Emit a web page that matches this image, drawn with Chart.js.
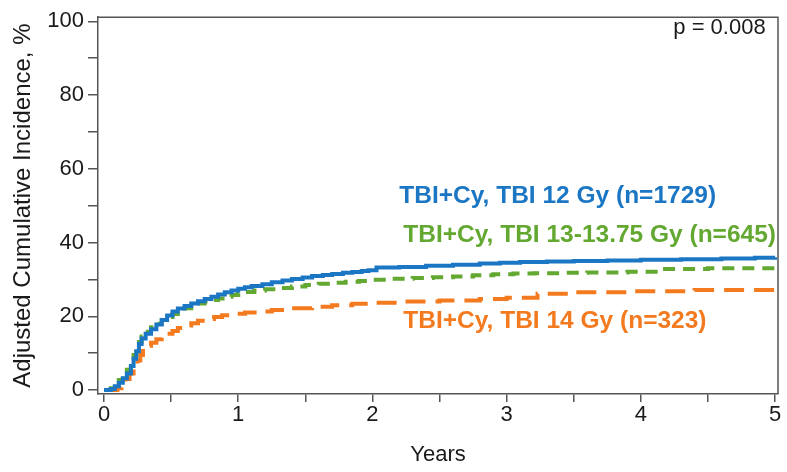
<!DOCTYPE html>
<html>
<head>
<meta charset="utf-8">
<script src="https://cdn.jsdelivr.net/npm/chart.js@4/dist/chart.umd.min.js"></script>
<style>
  html, body { margin: 0; padding: 0; background: #fff; }
  #wrap { width: 787px; height: 472px; position: relative; }
</style>
</head>
<body>
<div id="wrap"><canvas id="chart"></canvas></div>
<script>
// years since transplant, adjusted cumulative incidence (%)
const blueYears = [0, 0.05, 0.08, 0.11, 0.14, 0.17, 0.2, 0.22, 0.24, 0.26, 0.28, 0.31, 0.35, 0.39, 0.43, 0.47, 0.51, 0.55, 0.6, 0.65, 0.7, 0.75, 0.8, 0.85, 0.9, 0.95, 1.0, 1.05, 1.1, 1.18, 1.25, 1.33, 1.4, 1.48, 1.55, 1.63, 1.7, 1.78, 1.85, 1.92, 1.97, 2.03, 2.2, 2.4, 2.6, 2.8, 2.95, 3.1, 3.3, 3.5, 3.75, 4.0, 4.3, 4.6, 4.85, 5.0];
const blueValues = [0, 0.3, 1, 2, 3.2, 4.5, 6.5, 8.5, 10.5, 12.5, 14, 15.3, 16.5, 17.8, 19, 20.2, 21.3, 22.1, 22.8, 23.5, 24.1, 24.7, 25.3, 25.9, 26.5, 27, 27.5, 27.9, 28.2, 28.7, 29.2, 29.7, 30.1, 30.5, 30.9, 31.2, 31.5, 31.8, 32, 32.3, 32.5, 33.2, 33.4, 33.7, 34, 34.3, 34.5, 34.7, 34.85, 35, 35.15, 35.3, 35.5, 35.7, 35.9, 36];

const greenYears = [0, 0.05, 0.08, 0.11, 0.14, 0.17, 0.2, 0.22, 0.24, 0.26, 0.28, 0.31, 0.35, 0.39, 0.43, 0.47, 0.51, 0.55, 0.6, 0.65, 0.7, 0.75, 0.8, 0.85, 0.9, 0.95, 1.0, 1.05, 1.12, 1.2, 1.3, 1.4, 1.5, 1.6, 1.7, 1.8, 1.9, 2.0, 2.15, 2.3, 2.45, 2.6, 2.75, 2.9, 3.05, 3.2, 3.4, 3.6, 3.9, 4.14, 4.5, 5.0];
const greenValues = [0, 0.5, 1.5, 2.7, 4, 5.5, 7.5, 9.5, 11.5, 13, 14.5, 15.8, 17, 18, 19, 19.8, 20.6, 21.4, 22.2, 22.9, 23.5, 24, 24.4, 24.8, 25.3, 25.8, 26.2, 26.6, 27, 27.3, 27.7, 28.1, 28.5, 28.8, 29.1, 29.4, 29.6, 29.9, 30.2, 30.4, 30.6, 30.8, 31.1, 31.4, 31.6, 31.7, 31.8, 31.9, 32.1, 32.8, 33, 33];

const orangeYears = [0, 0.1, 0.13, 0.16, 0.19, 0.22, 0.25, 0.27, 0.29, 0.32, 0.35, 0.39, 0.43, 0.47, 0.51, 0.55, 0.6, 0.65, 0.7, 0.76, 0.82, 0.88, 0.95, 1.05, 1.15, 1.25, 1.4, 1.55, 1.7, 1.85, 2.0, 2.2, 2.5, 2.8, 3.0, 3.23, 3.5, 3.9, 4.4, 5.0];
const orangeValues = [0, 0.5, 1.5, 3, 4.5, 6.5, 8, 9.5, 11.2, 12, 12.8, 13.8, 14.6, 15.3, 16, 16.8, 17.5, 18.1, 18.8, 19.3, 19.8, 20.3, 20.7, 21, 21.3, 21.7, 22.2, 22.6, 23, 23.4, 23.7, 24, 24.3, 24.7, 25, 26.1, 26.5, 26.8, 27.1, 27.3];

const seriesLabels = ["TBI+Cy, TBI 12 Gy (n=1729)", "TBI+Cy, TBI 13-13.75 Gy (n=645)", "TBI+Cy, TBI 14 Gy (n=323)"];
const xTicks = [0, 0.5, 1, 1.5, 2, 2.5, 3, 3.5, 4, 4.5, 5];
const yTicks = [0, 10, 20, 30, 40, 50, 60, 70, 80, 90, 100];
const pValueText = "p = 0.008";

const BLUE = "#1b76c4";
const GREEN = "#63a830";
const ORANGE = "#f37a1f";
const AXIS = "#555";
const TEXT = "#1a1a1a";
const FONT = "'Liberation Sans', Arial, sans-serif";

const toPoints = (xs, ys) => xs.map((x, i) => ({ x, y: ys[i] }));

// labels placed in data coordinates, drawn after the curves
const annotations = [
  { text: seriesLabels[0], x: 2.2, y: 52.5, color: BLUE, bold: true, size: 24.5, align: "left" },
  { text: seriesLabels[1], x: 2.23, y: 42.0, color: GREEN, bold: true, size: 24.5, align: "left" },
  { text: seriesLabels[2], x: 2.23, y: 18.6, color: ORANGE, bold: true, size: 24.5, align: "left" },
  { text: pValueText, x: 4.93, y: 98.1, color: TEXT, bold: false, size: 22, align: "right" },
];

const boxAndText = {
  id: "boxAndText",
  afterDatasetsDraw(chart) {
    const { ctx, chartArea: a, scales } = chart;
    ctx.save();
    ctx.strokeStyle = AXIS;
    ctx.lineWidth = 1.5;
    ctx.beginPath();
    ctx.moveTo(a.left, a.top);
    ctx.lineTo(a.right, a.top);
    ctx.lineTo(a.right, a.bottom);
    ctx.stroke();
    ctx.textBaseline = "middle";
    for (const t of annotations) {
      ctx.font = (t.bold ? "bold " : "") + t.size + "px " + FONT;
      ctx.fillStyle = t.color;
      ctx.textAlign = t.align;
      ctx.fillText(t.text, scales.x.getPixelForValue(t.x), scales.y.getPixelForValue(t.y));
    }
    ctx.restore();
  },
};

new Chart(document.getElementById("chart"), {
  type: "line",
  data: {
    datasets: [
      {
        label: seriesLabels[0],
        data: toPoints(blueYears, blueValues),
        borderColor: BLUE,
        borderWidth: 4,
      },
      {
        label: seriesLabels[1],
        data: toPoints(greenYears, greenValues),
        borderColor: GREEN,
        borderWidth: 4,
        borderDash: [12, 8],
      },
      {
        label: seriesLabels[2],
        data: toPoints(orangeYears, orangeValues),
        borderColor: ORANGE,
        borderWidth: 4,
        borderDash: [20, 10],
      },
    ],
  },
  options: {
    responsive: true,
    maintainAspectRatio: false,
    animation: false,
    layout: { padding: { left: 0, top: 11, right: 9, bottom: 0 } },
    elements: {
      point: { radius: 0 },
      line: { stepped: true, tension: 0, fill: false, borderCapStyle: "butt" },
    },
    plugins: { legend: { display: false }, tooltip: { enabled: false } },
    scales: {
      x: {
        type: "linear",
        min: -0.045,
        max: 5.022,
        afterFit: (s) => { s.height = 78; },
        afterBuildTicks: (s) => { s.ticks = xTicks.map((v) => ({ value: v })); },
        ticks: {
          autoSkip: false,
          maxRotation: 0,
          padding: 0,
          color: TEXT,
          font: { family: FONT, size: 22 },
          callback: (v) => (Number.isInteger(v) ? String(v) : ""),
        },
        grid: { drawOnChartArea: false, drawTicks: true, tickLength: 8, color: AXIS, lineWidth: 1.5 },
        border: { display: true, color: AXIS, width: 1.5 },
        title: { display: true, text: "Years", color: TEXT, font: { family: FONT, size: 22 }, padding: { top: 0, bottom: 4 } },
      },
      y: {
        type: "linear",
        min: -1.07,
        max: 101.1,
        afterFit: (s) => { s.width = 98; },
        afterBuildTicks: (s) => { s.ticks = yTicks.map((v) => ({ value: v })); },
        ticks: {
          autoSkip: false,
          padding: 4,
          color: TEXT,
          font: { family: FONT, size: 22 },
          callback: (v) => (v % 20 === 0 ? String(v) : ""),
        },
        grid: { drawOnChartArea: false, drawTicks: true, tickLength: 10, color: AXIS, lineWidth: 1.5 },
        border: { display: true, color: AXIS, width: 1.5 },
        title: { display: true, text: "Adjusted Cumulative Incidence, %", color: TEXT, font: { family: FONT, size: 24 }, padding: { top: 9, bottom: 0 } },
      },
    },
  },
  plugins: [boxAndText],
});
</script>
</body>
</html>
